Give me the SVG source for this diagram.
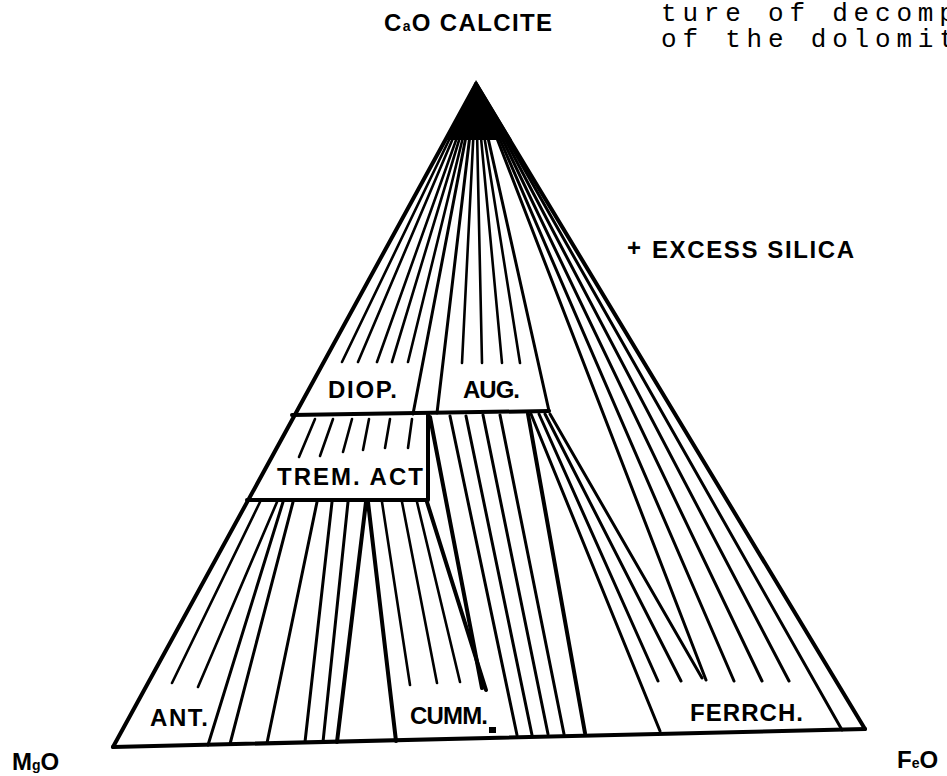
<svg xmlns="http://www.w3.org/2000/svg" width="947" height="776" viewBox="0 0 947 776">
<style>
.ln{stroke:#000;stroke-width:3;stroke-linecap:round;fill:none}
.tk{stroke:#000;stroke-width:2.6;stroke-linecap:round;fill:none}
.th{stroke:#000;stroke-width:4;stroke-linecap:round;stroke-linejoin:round;fill:none}
.lb{font-family:"Liberation Sans",Arial,sans-serif;font-size:24px;font-weight:bold;fill:#000}
.tw{font-family:"Liberation Mono","Courier New",monospace;font-size:26px;letter-spacing:5.8px;fill:#000}
</style>
<rect width="947" height="776" fill="#fff"/>
<g id="connectors">
  <!-- outline -->
  <line class="th" x1="476" y1="84" x2="113" y2="747"/>
  <line class="th" x1="476" y1="84" x2="865" y2="729"/>
  <line class="th" x1="113" y1="747" x2="865" y2="729"/>
  <polygon points="476,80 446,140 512,140" fill="#000"/>
  <!-- upper wedge -->
  <line class="th" x1="292" y1="415" x2="549" y2="411"/>
  <line class="ln" x1="476" y1="84" x2="413" y2="414"/>
  <line class="ln" x1="476" y1="84" x2="437" y2="413"/>
  <line class="ln" x1="476" y1="84" x2="549" y2="411"/>
  <line class="tk" x1="476" y1="84" x2="342" y2="362"/>
  <line class="tk" x1="476" y1="84" x2="358" y2="362"/>
  <line class="tk" x1="476" y1="84" x2="377" y2="362"/>
  <line class="tk" x1="476" y1="84" x2="392" y2="362"/>
  <line class="tk" x1="476" y1="84" x2="408" y2="362"/>
  <line class="tk" x1="476" y1="84" x2="462" y2="363"/>
  <line class="tk" x1="476" y1="84" x2="482" y2="363"/>
  <line class="tk" x1="476" y1="84" x2="502" y2="363"/>
  <line class="tk" x1="476" y1="84" x2="520" y2="363"/>
  <!-- right fan from apex -->
  <line class="ln" x1="476" y1="84" x2="706" y2="680"/>
  <line class="ln" x1="476" y1="84" x2="734" y2="681"/>
  <line class="ln" x1="476" y1="84" x2="762" y2="681"/>
  <line class="ln" x1="476" y1="84" x2="789" y2="681"/>
  <line class="ln" x1="476" y1="84" x2="842" y2="730"/>
  <!-- TREM box -->
  <polyline class="th" points="428,414 428,500 247,500"/>
  <line class="tk" x1="315" y1="419" x2="299" y2="457"/>
  <line class="tk" x1="333" y1="419" x2="320" y2="456"/>
  <line class="tk" x1="352" y1="419" x2="343" y2="452"/>
  <line class="tk" x1="369" y1="419" x2="363" y2="450"/>
  <line class="tk" x1="390" y1="419" x2="385" y2="448"/>
  <line class="tk" x1="412" y1="419" x2="408" y2="448"/>
  <!-- ANT band -->
  <line class="tk" x1="260" y1="502" x2="172" y2="683"/>
  <line class="tk" x1="277" y1="502" x2="198" y2="687"/>
  <line class="ln" x1="283" y1="502" x2="208" y2="745"/>
  <line class="ln" x1="293" y1="502" x2="230" y2="744"/>
  <line class="ln" x1="317" y1="502" x2="267" y2="743"/>
  <line class="ln" x1="332" y1="502" x2="305" y2="742"/>
  <line class="ln" x1="348" y1="502" x2="323" y2="742"/>
  <line class="th" x1="366" y1="502" x2="337" y2="742"/>
  <line class="th" x1="368" y1="502" x2="396" y2="741"/>
  <!-- CUMM band -->
  <line class="tk" x1="382" y1="502" x2="410" y2="685"/>
  <line class="tk" x1="402" y1="502" x2="437" y2="683"/>
  <line class="tk" x1="417" y1="502" x2="460" y2="682"/>
  <line class="th" x1="427" y1="502" x2="486" y2="690"/>
  <line class="th" x1="430" y1="417" x2="482" y2="688"/>
  <line class="ln" x1="450" y1="416" x2="517" y2="735"/>
  <line class="ln" x1="466" y1="416" x2="532" y2="735"/>
  <line class="ln" x1="483" y1="415" x2="548" y2="734"/>
  <line class="ln" x1="500" y1="415" x2="564" y2="734"/>
  <line class="th" x1="528" y1="414" x2="585" y2="733"/>
  <rect x="489" y="727" width="7" height="6" fill="#000"/>
  <!-- FERRCH band -->
  <line class="ln" x1="531" y1="414" x2="660" y2="731"/>
  <line class="ln" x1="539" y1="414" x2="658" y2="681"/>
  <line class="ln" x1="545" y1="414" x2="681" y2="681"/>
  <line class="ln" x1="550" y1="414" x2="702" y2="678"/>
</g>
<g id="label-calcite"><text class="lb" x="384" y="31" font-size="19" font-weight="normal" textLength="168" lengthAdjust="spacing">C<tspan font-size="14">a</tspan>O CALCITE</text></g>
<g id="label-excess"><text class="lb" x="627" y="256" font-size="14" font-weight="normal">+</text><text class="lb" x="652" y="258" font-size="20" textLength="202" lengthAdjust="spacing">EXCESS  SILICA</text></g>
<g id="label-diop"><text class="lb" x="328" y="398" textLength="69" lengthAdjust="spacing">DIOP.</text></g>
<g id="label-aug"><text class="lb" x="463" y="398" textLength="57" lengthAdjust="spacing">AUG.</text></g>
<g id="label-trem"><text class="lb" x="277" y="485" textLength="146" lengthAdjust="spacing">TREM. ACT</text></g>
<g id="label-ant"><text class="lb" x="150" y="726" textLength="58" lengthAdjust="spacing">ANT.</text></g>
<g id="label-cumm"><text class="lb" x="410" y="724" textLength="78" lengthAdjust="spacing">CUMM.</text></g>
<g id="label-ferrch"><text class="lb" x="690" y="721" textLength="113" lengthAdjust="spacing">FERRCH.</text></g>
<g id="label-mgo"><text class="lb" x="12" y="770" font-size="18">M<tspan font-size="14">g</tspan>O</text></g>
<g id="label-feo"><text class="lb" x="897" y="768" font-size="19">F<tspan font-size="14">e</tspan>O</text></g>
<g id="typescript">
  <text class="tw" x="661" y="21">ture of decomp</text>
  <text class="tw" x="661" y="47">of the dolomit</text>
</g>
</svg>
